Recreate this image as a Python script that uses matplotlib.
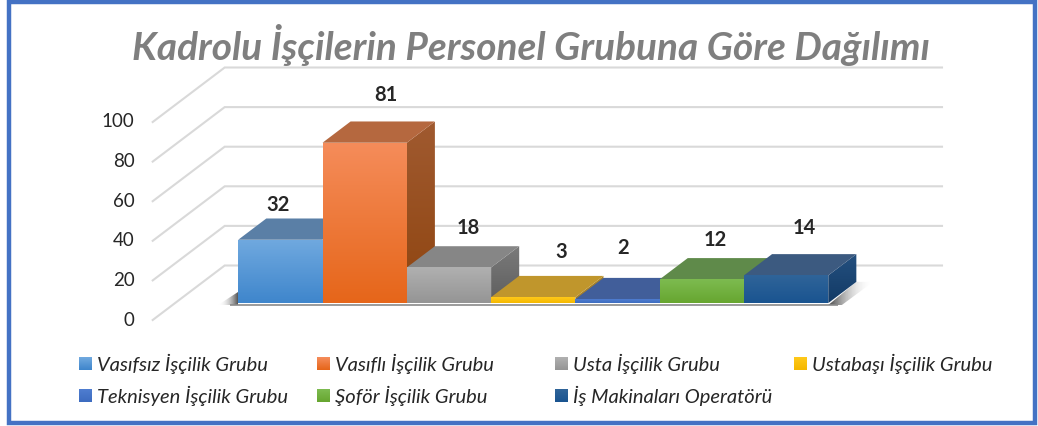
import matplotlib
matplotlib.use("Agg")
import matplotlib.pyplot as plt
import numpy as np
from matplotlib.patches import Polygon, Rectangle
from matplotlib.colors import LinearSegmentedColormap, to_rgb

W, H = 1038, 426
title = "Kadrolu İşçilerin Personel Grubuna Göre Dağılımı"
categories = ["Vasıfsız İşçilik Grubu", "Vasıflı İşçilik Grubu", "Usta İşçilik Grubu",
              "Ustabaşı İşçilik Grubu", "Teknisyen İşçilik Grubu", "Şoför İşçilik Grubu",
              "İş Makinaları Operatörü"]
values = [32, 81, 18, 3, 2, 12, 14]
y_ticks = [0, 20, 40, 60, 80, 100]

# style: (front top, front bottom, top face, side top, side bottom)
face_colors = [
    ("#70a9df", "#3f86cc", "#5a7fa6", "#4a6f96", "#3a5f86"),
    ("#f58c5a", "#e6661a", "#b5683f", "#a05a30", "#8f4510"),
    ("#b0b0b0", "#959595", "#868686", "#7a7a7a", "#5e5e5e"),
    ("#ffc91a", "#f5b800", "#c0962c", "#a88228", "#a88228"),
    ("#4f7dd0", "#3d6cc0", "#415e9a", "#38528a", "#38528a"),
    ("#7dbb50", "#67a630", "#5f8a4a", "#4f7a3c", "#4f7a3c"),
    ("#2f6499", "#1a5490", "#3c5a80", "#24507f", "#123a66"),
]
label_px = [(278, 205), (386, 95), (468, 228), (561, 252), (623, 248), (715, 240), (804, 228)]
legend_px = [(79, 364), (317, 364), (555, 364), (794, 364), (79, 396), (317, 396), (555, 396)]

plt.rcParams["font.family"] = ["Lato", "DejaVu Sans"]
fig = plt.figure(figsize=(W / 100, H / 100), dpi=100, facecolor="white")

# overlay in pixel coordinates for the frame, labels and legend
ov = fig.add_axes([0, 0, 1, 1], zorder=3)
ov.set_xlim(0, W); ov.set_ylim(H, 0); ov.axis("off"); ov.patch.set_alpha(0)

# front plane of the 3-D box
PX_L, PX_R, PX_T, PX_B = 152.7, 870.0, 122.0, 320.0
ax = fig.add_axes([PX_L / W, 1 - PX_B / H, (PX_R - PX_L) / W, (PX_B - PX_T) / H], zorder=1)
ax.set_xlim(-1.25, 7.26)
ax.set_ylim(0, 100)
ax.patch.set_alpha(0)
for s in ax.spines.values():
    s.set_visible(False)
ax.set_xticks([])
ax.set_yticks(y_ticks)
ax.tick_params(axis="y", length=0, pad=13, labelsize=13.5, labelcolor="#262626")
for t in ax.get_yticklabels():
    t.set_verticalalignment("center")

sx = (PX_R - PX_L) / (7.26 + 1.25)
sy = (PX_B - PX_T) / 100
BACK_X, BACK_Y = 72.0 / sx, 54.5 / sy      # full-depth shift in data units
D0, D1 = 0.31, 0.70                        # bar depth range


def proj(x, y, d):
    return x + BACK_X * d, y + BACK_Y * d


GRID = "#d9d9d9"
x_left, x_right = ax.get_xlim()
for v in y_ticks:
    p0 = proj(x_left, v, 0); p1 = proj(x_left, v, 1); p2 = proj(x_right, v, 1)
    ax.plot([p0[0], p1[0], p2[0]], [p0[1], p1[1], p2[1]], color=GRID, lw=1.5,
            clip_on=False, zorder=1, solid_joinstyle="miter")


def gradient(poly, c0, c1, z):
    """Fill polygon with a vertical gradient c0 (top) to c1 (bottom)."""
    pts = np.array(poly)
    cmap = LinearSegmentedColormap.from_list("g", [to_rgb(c1), to_rgb(c0)])
    im = ax.imshow(np.linspace(0, 1, 64)[:, None], origin="lower", aspect="auto", cmap=cmap,
                   extent=(pts[:, 0].min(), pts[:, 0].max(), pts[:, 1].min(), pts[:, 1].max()),
                   zorder=z)
    im.set_clip_path(Polygon(pts, closed=True, transform=ax.transData))


# floor shadow
x0, x1 = -0.5, len(values) - 0.5
bx0, by0 = proj(x0, 0, D0); bx1, by1 = proj(x1, 0, D0)
bx2, by2 = proj(x1, 0, D1)
base_lo = by0 - 0.8
sh = LinearSegmentedColormap.from_list("s", [(1, 1, 1, 0), (0.2, 0.2, 0.2, 0.9)])
# left
ls = ax.imshow(np.linspace(0, 1, 32)[None, :], aspect="auto", cmap=sh, origin="lower",
               extent=(bx0 - 0.24, bx0, by0 - 1, by0 + 5.5), zorder=2)
ls.set_clip_path(Polygon([(bx0 - 0.24, by0 - 1), (bx0, by0 - 1), (bx0, by0 + 5.5)],
                         closed=True, transform=ax.transData))
# right
rs = ax.imshow(np.linspace(1, 0, 32)[None, :], aspect="auto", cmap=sh, origin="lower",
               extent=(bx1, bx2 + 0.2, by0 - 1, by2), zorder=2)
rs.set_clip_path(Polygon([(bx1, by0 - 1), (bx2, by2), (bx2 + 0.2, by2), (bx1 + 0.16, by0 - 1)],
                         closed=True, transform=ax.transData))
ax.plot([bx0 - 0.1, bx1 + 0.12], [base_lo, base_lo], color="#8a8a8a", lw=1.2, zorder=2,
        solid_capstyle="butt")

# bars, left to right
for i, (v, c) in enumerate(zip(values, face_colors)):
    z = 3 + i
    l, r = i - 0.5, i + 0.5
    fa = proj(l, 0, D0); fb = proj(r, 0, D0); fc = proj(r, v, D0); fd = proj(l, v, D0)
    ba = proj(r, 0, D1); bb = proj(r, v, D1); bc = proj(l, v, D1)
    gradient([fb, ba, bb, fc], c[3], c[4], z)
    ax.add_patch(Polygon([fd, fc, bb, bc], closed=True, facecolor=c[2], edgecolor="none", zorder=z,
                         clip_on=False))
    gradient([fa, fb, fc, fd], c[0], c[1], z + 0.5)

ax.set_xlim(x_left, x_right); ax.set_ylim(0, 100)

# frame
ov.add_patch(Rectangle((9, 2), 1026, 420.5, fill=False, edgecolor="#4472c4", lw=3.2))

# title
ov.text(530.5, 45, title, fontsize=27.9, fontstyle="italic", fontweight="bold", color="#7f7f7f",
        ha="center", va="center")

# data labels
for v, (x, y) in zip(values, label_px):
    ov.text(x, y, str(v), fontsize=14.5, fontweight="bold", color="#262626", ha="center", va="center")

# legend
for name, c, (x, y) in zip(categories, face_colors, legend_px):
    cmap = LinearSegmentedColormap.from_list("g", [to_rgb(c[0]), to_rgb(c[1])])
    ov.imshow(np.linspace(0, 1, 16)[:, None], extent=(x, x + 13, y + 6.5, y - 6.5), cmap=cmap,
              aspect="auto", zorder=2)
    ov.text(x + 18, y, name, fontsize=14.5, fontstyle="italic", color="#262626", ha="left", va="center")
ov.set_xlim(0, W); ov.set_ylim(H, 0)

fig.savefig("out.png", dpi=100, facecolor="white")
